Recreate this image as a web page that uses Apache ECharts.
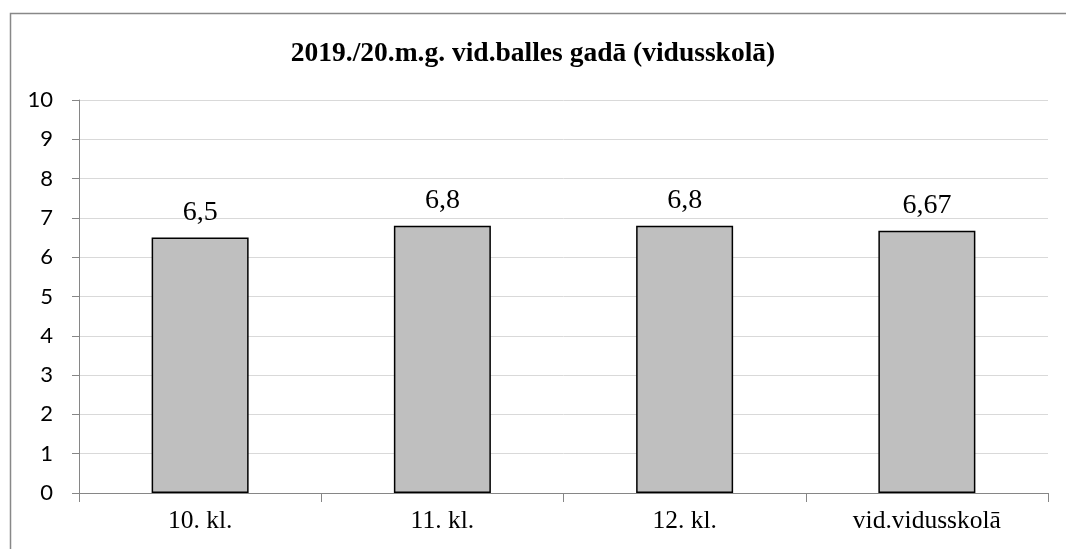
<!DOCTYPE html>
<html>
<head>
<meta charset="utf-8">
<script src="https://cdn.jsdelivr.net/npm/echarts@6/dist/echarts.min.js"></script>
<style>
  html, body { margin: 0; padding: 0; background: #fff; }
  #chart { width: 1066px; height: 549px; }
</style>
</head>
<body>
<div id="chart"></div>
<script>
const categories = ['10. kl.', '11. kl.', '12. kl.', 'vid.vidusskolā']
const values = [6.5, 6.8, 6.8, 6.67]
const titleText = '2019./20.m.g. vid.balles gadā (vidusskolā)'

const chart = echarts.init(document.getElementById('chart'))

chart.setOption({
  animation: false,
  title: {
    text: titleText,
    left: 'center',
    top: 35,
    textStyle: {
      fontFamily: 'Liberation Serif',
      fontSize: 27.5,
      fontWeight: 'bold',
      color: '#000'
    }
  },
  graphic: [{
    type: 'rect',
    shape: { x: 10.5, y: 13.5, width: 1200, height: 700 },
    style: { fill: 'none', stroke: '#888', lineWidth: 1.5 },
    silent: true
  }],
  grid: { left: 79, right: 18, top: 100, bottom: 56 },
  xAxis: {
    type: 'category',
    data: categories,
    axisLine: { lineStyle: { color: '#868686', width: 1 } },
    axisTick: { show: true, length: 9, lineStyle: { color: '#868686' } },
    axisLabel: {
      fontFamily: 'Liberation Serif',
      fontSize: 25.5,
      color: '#000',
      margin: 15
    }
  },
  yAxis: {
    type: 'value',
    min: 0,
    max: 10,
    interval: 1,
    axisLine: { show: true, lineStyle: { color: '#868686', width: 1 } },
    axisTick: { show: true, length: 7, lineStyle: { color: '#868686' } },
    axisLabel: {
      fontFamily: 'Lato',
      fontSize: 22,
      color: '#000',
      margin: 26
    },
    splitLine: { lineStyle: { color: '#d9d9d9', width: 1 } }
  },
  series: [{
    type: 'bar',
    data: values,
    barWidth: 97,
    itemStyle: {
      color: '#bfbfbf',
      borderColor: '#000',
      borderWidth: 1.5
    },
    label: {
      show: true,
      position: 'top',
      distance: 11,
      fontFamily: 'Liberation Serif',
      fontSize: 28,
      color: '#000',
      formatter: p => String(p.value).replace('.', ',')
    }
  }]
})
</script>
</body>
</html>
